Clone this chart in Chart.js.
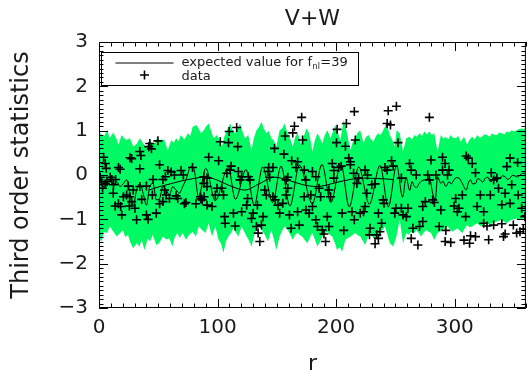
<!DOCTYPE html>
<html><head><meta charset="utf-8">
<script src="https://cdn.jsdelivr.net/npm/chart.js@4/dist/chart.umd.min.js"></script>
<style>html,body{margin:0;padding:0;background:#fff}</style>
</head><body>
<canvas id="c" width="532" height="372"></canvas>
<script>
// ---------- text ----------
const chartTitle = 'V+W';
const xAxisTitle = 'r';
const yAxisTitle = 'Third order statistics';
const legendLineText = 'expected value for f';
const legendLineSub = 'nl';
const legendLineTail = '=39';
const legendDataText = 'data';

// ---------- ticks ----------
const xTickValues = [0, 100, 200, 300];
const yTickValues = [-3, -2, -1, 0, 1, 2, 3];

// ---------- band (upper / lower edge), [r, value] ----------
const bandUpper = [
[0,0.96],[1,0.94],[4,0.86],[7,1.01],[9,0.83],[12,0.96],[15,0.80],[16.5,0.68],[19,0.90],[21,0.84],[23,0.79],[26,0.83],[29,0.64],[32,0.71],[34.5,0.83],[37,0.72],[40,0.62],[43,0.80],[45,0.70],[47,0.72],[49,0.84],[51,0.79],[55,0.80],[58,0.56],[61,0.79],[63,0.72],[65,0.83],[67,0.76],[69,0.90],[72,0.80],[75,0.94],[77,0.88],[79,1.09],[82,1.13],[84,1.05],[86,0.94],[88.5,1.01],[90,1.09],[92.5,1.16],[94.5,1.0],[96.7,0.83],[99.5,0.90],[101.5,0.80],[103.6,0.64],[105.5,0.85],[107.8,1.01],[110.6,1.16],[112.5,1.02],[114.8,0.94],[116.8,1.05],[118.9,1.16],[121,0.98],[123.1,0.83],[125.9,0.90],[128.6,0.56],[130.5,0.82],[132.8,1.01],[135,1.08],[137,1.20],[139,1.05],[141.1,0.94],[143,1.0],[145.3,0.83],[147.5,0.78],[149.5,0.64],[152.3,1.01],[154.5,1.05],[156.4,1.16],[158.5,0.98],[160.6,0.86],[163.4,0.64],[165.5,0.86],[167.5,0.95],[170.3,0.70],[173.1,0.90],[175,1.05],[177.2,0.95],[180,0.53],[182,0.78],[184.2,0.94],[186,0.85],[188.3,0.71],[190.5,0.9],[192.5,1.01],[195.3,0.83],[197.5,1.0],[199.4,1.13],[201.5,0.95],[203.6,0.79],[206.4,1.24],[209.2,0.94],[212,0.56],[214,0.75],[216.1,0.83],[218,0.95],[220.3,1.01],[223.1,0.71],[225,0.85],[227.2,0.90],[229,0.82],[231.4,0.75],[233.5,0.88],[235.6,0.94],[237.5,0.9],[239.7,1.01],[242.5,1.16],[245.3,0.90],[247.5,0.78],[249.4,0.64],[251,1.01],[253.6,0.94],[256.4,0.53],[259.1,0.83],[261.9,0.86],[264,0.80],[266.1,0.90],[268,0.86],[270.2,0.94],[272.5,0.88],[274.4,0.98],[276.5,0.92],[278.6,0.98],[280.5,0.90],[282.7,0.94],[285.5,0.53],[288.3,0.90],[290.5,0.82],[292.5,0.86],[294.5,0.80],[296.6,0.90],[298.5,0.84],[300.8,0.83],[303,0.88],[305,0.75],[307.8,0.86],[310.5,0.68],[312.5,0.80],[314.7,0.86],[316.8,0.80],[318.9,0.90],[321,0.84],[323,0.86],[325,0.92],[327.2,0.90],[329.5,0.86],[331.4,0.94],[333.5,0.90],[335.5,0.90],[337.5,0.96],[339.7,0.94],[342,0.92],[343.9,0.98],[346,0.96],[348,1.01],[350,0.98],[352.2,1.01],[354.5,1.04],[356.4,1.05],[358.5,1.03],[360,1.09]
];
const bandLower = [
[0,-1.45],[2.2,-1.50],[4,-1.28],[6.7,-1.31],[9.2,-1.16],[12.2,-1.28],[15,-1.39],[17.8,-1.31],[20.3,-1.25],[22,-1.40],[24.4,-1.35],[26.1,-1.50],[28.9,-1.65],[31.7,-1.54],[34.2,-1.61],[36,-1.46],[38.3,-1.69],[41.1,-1.43],[43,-1.50],[45.3,-1.35],[48.3,-1.58],[50.8,-1.54],[53.9,-1.39],[56.4,-1.45],[59.4,-1.43],[61.9,-1.61],[64,-1.40],[66.1,-1.31],[68,-1.42],[70.6,-1.31],[73.3,-1.46],[76.1,-1.35],[78.9,-1.28],[81.7,-1.39],[84.2,-1.16],[87,-1.24],[89.8,-1.31],[92.5,-1.09],[95.3,-1.39],[98.1,-1.16],[100.9,-1.46],[103,-1.55],[105,-1.76],[107,-1.50],[109.2,-1.39],[111.5,-1.30],[113.4,-1.20],[115.5,-1.30],[117.5,-1.39],[120.3,-1.16],[122.5,-1.28],[124.5,-1.39],[126.5,-1.48],[128.6,-1.61],[131.4,-1.31],[133.5,-1.22],[135.6,-1.16],[137.5,-1.25],[139.8,-1.35],[142.5,-1.50],[145.3,-1.24],[147.5,-1.45],[149.5,-1.69],[152.3,-1.39],[154.5,-1.25],[156.4,-1.16],[158.5,-1.22],[160.6,-1.31],[163.4,-1.46],[165.5,-1.35],[167.5,-1.30],[169.5,-1.36],[171.7,-1.40],[173.8,-1.48],[175.8,-1.54],[178,-1.40],[180,-1.31],[182,-1.45],[184.2,-1.61],[186.5,-1.50],[188.3,-1.39],[190.5,-1.32],[192.5,-1.28],[194.5,-1.35],[196.7,-1.39],[198.8,-1.52],[200.8,-1.69],[203,-1.62],[205,-1.73],[207.8,-1.46],[210,-1.42],[212,-1.39],[214,-1.35],[216.1,-1.31],[218.2,-1.36],[220.3,-1.39],[222.3,-1.48],[224.4,-1.58],[226.5,-1.42],[228.6,-1.31],[230.7,-1.40],[232.8,-1.46],[234.8,-1.40],[236.9,-1.35],[239,-1.24],[241.1,-1.16],[243.2,-1.35],[245.3,-1.54],[248.1,-1.61],[250.8,-1.39],[253.6,-1.01],[256.4,-1.54],[259.1,-1.31],[261,-1.35],[263.3,-1.28],[265.5,-1.32],[267.5,-1.24],[269.5,-1.30],[271.6,-1.39],[273.7,-1.30],[275.8,-1.24],[278,-1.28],[280,-1.31],[282.7,-1.46],[285.5,-1.31],[287.5,-1.28],[289.7,-1.24],[291.8,-1.20],[293.9,-1.16],[296,-1.22],[298,-1.28],[300,-1.24],[302.2,-1.20],[304.3,-1.26],[306.4,-1.31],[308.5,-1.20],[310.5,-1.13],[312.5,-1.18],[314.7,-1.16],[316.8,-1.12],[318.9,-1.09],[321,-1.14],[323,-1.16],[325,-1.12],[327.2,-1.09],[329.3,-1.12],[331.4,-1.09],[333.5,-1.07],[335.5,-1.05],[337.6,-1.03],[339.7,-1.01],[341.8,-1.06],[343.9,-1.09],[346,-1.04],[348,-1.01],[350,-1.0],[352.2,-0.98],[354.3,-1.02],[356.4,-1.01],[358.3,-0.97],[360,-0.94]
];

// ---------- expected value curve, [r, value] ----------
const expectedMain = [
[0,-0.30],[1.1,-0.11],[3.9,-0.26],[6.7,-0.19],[9.4,-0.11],[12.2,-0.22],[15,-0.15],[17.8,-0.26],[20.6,-0.19],[23.3,-0.11],[26.1,-0.41],[28.9,-0.68],[31.7,-0.34],[34.4,-0.19],[37.2,-0.41],[40,-0.68],[42.8,-0.26],[45.6,-0.19],[48.3,-0.56],[51.1,-0.53],[53.9,-0.26],[56.7,-0.34],[59.4,-0.45],[62.2,-0.26],[65,-0.34],[67.8,-0.41],[70.6,-0.26],[73.3,-0.11],[77.5,0.19],[80.3,0.11],[84,-0.50],[90,0.15],[98,-0.58],[109,0.17],[115,-0.55],[124,0.12],[131,-0.68],[138,0.18],[146.5,-0.62],[153.5,0.20],[161,-0.70],[169,0.22],[180,-0.65],[188,0.24],[195.5,-0.62],[204,0.25],[211,-0.72],[219,0.18],[228,-0.66],[237,0.22],[244,-0.72],[251,0.22],[256,-0.50],[259,-0.05],[262,-0.35],[264,-0.15],[266,-0.26],[268,-0.28],[270,-0.19],[272,-0.14],[274.4,-0.11],[276,-0.12],[278.6,-0.07],[281.4,-0.41],[283.6,-0.56],[285.5,-0.04],[288.3,-0.19],[290,-0.14],[292.5,-0.26],[295.2,-0.15],[297,-0.20],[299.4,-0.11],[301,-0.06],[303.6,-0.07],[306.4,-0.19],[309.7,-0.34],[311.5,-0.18],[313.3,-0.11],[315,-0.20],[317.5,-0.19],[319.5,-0.08],[321.6,-0.11],[323.5,-0.16],[325.8,-0.07],[328,-0.05],[330,-0.15],[332,-0.12],[334.1,-0.04],[336,-0.10],[338.3,-0.07],[340,-0.02],[342.5,-0.04],[344.5,-0.10],[346.6,-0.07],[348.5,-0.01],[350.8,-0.02],[353,-0.05],[355,0.0],[357.5,0.04],[360,0.02]
];
const expectedSmooth = [
[42,-0.34],[50,-0.27],[60,-0.20],[70,-0.13],[80,-0.08],[90,-0.04],[100,-0.12],[112,-0.26],[123,-0.34],[135,-0.20],[148,-0.05],[160,-0.12],[172,-0.22],[184,-0.26],[200,-0.17],[212,-0.10],[223,-0.07],[235,-0.08],[248,-0.10]
];

// ---------- data points, [r, value] ----------
const dataPoints = [
[3.9,0.40],[5.3,0.26],[6.1,0.15],[16.4,0.17],[17.8,0.13],[26.1,0.39],[27.5,0.37],[34.4,0.53],[35.3,0.44],[34.4,0.14],[42,0.64],[42.8,0.71],[44.2,0.59],[49.7,0.77],[51.1,0.23],
[9.4,-0.05],[10.8,-0.10],[6.7,-0.15],[5.3,-0.20],[12.2,-0.22],[24.7,-0.25],[28.9,-0.34],[34.4,-0.26],[40,-0.25],[45.6,-0.10],[53.9,-0.10],[58,0.10],[60.8,0.07],[63.6,0.0],[69.2,0.10],[71.1,0.0],[78.9,0.17],[2,-0.15],[14,-0.10],[56,-0.04],[1,-0.05],[3,-0.30],
[13.6,-0.70],[16.4,-0.65],[18.3,-0.71],[19.2,-0.90],[20.6,-0.49],[23.3,-0.45],[25.6,-0.70],[27.5,-0.60],[30.3,-0.75],[31.7,-1.01],[40,-0.90],[41.4,-1.0],[48.3,-0.86],[55.3,-0.34],[56.7,-0.45],[59.4,-0.53],[65,-0.47],[66.4,-0.53],[72,-0.65],[73.3,-0.62],[81.7,-0.65],[85.8,-0.53],[88.6,-0.49],[51.1,-0.65],[53.9,-0.60],[12,-0.41],[25.8,-0.49],[36,-0.55],[45,-0.45],
[92.5,0.40],[100.9,0.32],[102.3,0.75],[109.2,0.73],[109.8,0.98],[116.1,1.07],[117,0.64],[148,0.60],[155.9,0.47],[157,0.88],[163.4,0.95],[164.8,1.1],[170.9,1.3],[171.7,0.79],[162.5,0.32],[167.5,0.30],[143.1,0.17],[146.7,0.17],
[88.4,-0.04],[91.1,-0.07],[111.4,0.2],[110.6,0.11],[107.8,0.04],[117.5,0.08],[118.9,-0.11],[120.3,-0.04],[125.9,-0.04],[127.3,-0.11],[142.5,0.08],[143.9,-0.05],[157.8,-0.11],[159.2,-0.05],[166.1,0.17],[173.1,0.11],
[85.6,-0.49],[87,-0.56],[91.1,-0.68],[95.3,-0.71],[98.1,-0.45],[103.6,-0.30],[105,-0.45],[105.9,-0.94],[106.4,-1.09],[113.4,-0.86],[114.8,-1.15],[120.3,-0.83],[124.5,-0.68],[125.3,-0.53],[128.6,-0.98],[130,-0.86],[132.8,-1.16],[133.6,-0.68],[134.2,-1.31],[135.6,-1.5],[137,-1.13],[138.4,-0.94],[139.8,-0.34],[141.1,-0.45],[146.7,-0.49],[148.6,-0.56],[150.9,-0.68],[152.3,-0.86],[155,-0.64],[157.8,-0.45],[159.2,-0.30],[160.6,-0.90],[162,-1.2],[167.5,-0.83],[168.9,-1.13],[174.5,-0.79],[88.4,-0.19],[91.1,-0.26],[99.5,-0.30],
[200.8,1.03],[208.6,1.16],[215.3,1.43],[216.1,0.79],[200.3,0.73],[207.8,0.65],[243.9,1.45],[250.8,1.55],[243,1.16],[245.8,1.13],[252.2,0.73],[210.6,0.38],[212,0.30],[246.7,0.32],
[180,0.08],[182.8,-0.04],[174.4,-0.11],[196.7,0.26],[198,0.10],[202.2,0.17],[204.2,0.20],[212,0.23],[214.7,0.04],[218.9,-0.07],[224.4,0.11],[226.4,0.0],[230,-0.22],[232.8,-0.20],[241.1,0.17],[243,0.11],[248.1,0.2],[255,-0.07],[198,-0.07],[217.5,-0.19],
[173,-0.49],[178.6,-0.45],[180,-0.71],[185.6,-0.30],[186.9,-0.49],[193.9,-0.34],[195.3,-0.49],[177.2,-0.86],[182.8,-1.01],[184.2,-1.16],[188.3,-1.24],[189.7,-1.33],[191.1,-1.5],[192.5,-0.94],[193.9,-1.16],[206.4,-1.25],[205,-0.86],[213.3,-0.83],[215.3,-1.01],[220.3,-0.86],[223.1,-0.83],[224.4,-0.71],[225.8,-0.41],[235.6,-0.86],[238.3,-1.09],[239.7,-0.56],[240.3,-0.64],[228.6,-1.2],[228.1,-1.35],[234.2,-1.35],[235.6,-1.43],[232.8,-1.55],[236.9,-1.28],[249.4,-0.86],[250.3,-0.75],[256.4,-0.9],
[278.6,1.30],[280,0.34],[289.7,0.4],[309.7,0.43],[311.4,0.38],[346.6,0.38],[353,0.28],[261.9,0.26],[291.9,0.26],[314.7,0.26],[343.9,0.19],
[263.3,0.11],[267.5,0.0],[277.2,0.0],[284.1,0.0],[289.7,0.11],[295.2,0.11],[293.9,0.0],[317.5,0.05],[330.8,0.05],[332.8,-0.11],[335.5,-0.07],[348,-0.22],[278.6,-0.11],
[255,-0.75],[259.2,-0.94],[260.5,-0.75],[273,-0.71],[275.2,-0.60],[281.4,-0.56],[282.8,-0.62],[288.3,-0.79],[300.8,-0.53],[299.4,-0.70],[302.2,-0.83],[303.6,-0.75],[306.4,-0.45],[309.2,-0.94],[318.9,-0.71],[321.6,-0.45],[324.4,-0.83],[330,-0.45],[336.9,-0.30],[342.5,-0.41],[339.7,-0.67],[346.6,-0.64],[353.5,-0.45],[356.4,-0.75],[359.1,-0.94],
[264.7,-1.2],[270.3,-1.16],[273,-1.05],[263.3,-1.43],[268.9,-1.58],[286.9,-1.16],[292.5,-1.25],[291.9,-1.5],[296.6,-1.52],[307.8,-1.47],[313.3,-1.37],[317.5,-1.39],[312.5,-1.54],[324.4,-1.09],[327.2,-1.15],[328.6,-1.46],[332.8,-1.13],[339.7,-1.1],[341.1,-1.39],[342.5,-1.33],[349.4,-1.13],[352.2,-1.31],[355,-1.28],[357.8,-1.22]
];

// ---------- styling ----------
const GREEN = 'rgb(0,250,100)';
const INK = '#1a1a1a';
const FONT = 'DejaVu Sans';
const toXY = arr => arr.map(p => ({x: p[0], y: p[1]}));
const fmtTick = v => (v < 0 ? '\u2212' + Math.abs(v) : String(v));

const framePlugin = {
  id: 'frameTicks',
  afterDatasetsDraw(chart) {
    const {ctx, chartArea: a, scales: {x, y}} = chart;
    ctx.save();
    ctx.strokeStyle = '#000';
    ctx.lineWidth = 1;
    ctx.strokeRect(a.left + 0.5, a.top + 0.5, a.right - a.left - 1, a.bottom - a.top - 1);
    ctx.beginPath();
    for (let k = 0; k <= 36; k++) {
      const px = Math.round(x.getPixelForValue(k * 10)) + 0.5;
      const len = (k % 10 === 0) ? 9 : 4.5;
      ctx.moveTo(px, a.bottom); ctx.lineTo(px, a.bottom - len);
      ctx.moveTo(px, a.top); ctx.lineTo(px, a.top + len);
    }
    for (let k = -30; k <= 30; k++) {
      const py = Math.round(y.getPixelForValue(k / 10)) + 0.5;
      const len = (k % 10 === 0) ? 9 : 4.5;
      ctx.moveTo(a.left, py); ctx.lineTo(a.left + len, py);
      ctx.moveTo(a.right, py); ctx.lineTo(a.right - len, py);
    }
    ctx.stroke();
    ctx.restore();
  }
};

const legendPlugin = {
  id: 'boxLegend',
  afterDraw(chart) {
    const {ctx, chartArea: a} = chart;
    const x0 = a.left + 2.5, y0 = a.top + 10.5, w = 257, h = 33;
    ctx.save();
    ctx.strokeStyle = '#000';
    ctx.lineWidth = 1;
    ctx.strokeRect(x0, y0, w, h);
    ctx.beginPath();
    ctx.moveTo(x0 + 14, y0 + 10.5); ctx.lineTo(x0 + 72, y0 + 10.5);
    ctx.stroke();
    ctx.lineWidth = 1.6;
    const cx = x0 + 43, cy = y0 + 22.5;
    ctx.beginPath();
    ctx.moveTo(cx - 4.5, cy); ctx.lineTo(cx + 4.5, cy);
    ctx.moveTo(cx, cy - 4.5); ctx.lineTo(cx, cy + 4.5);
    ctx.stroke();
    ctx.fillStyle = INK;
    ctx.textBaseline = 'alphabetic';
    ctx.font = '13px "' + FONT + '"';
    let tx = x0 + 80;
    ctx.fillText(legendLineText, tx, y0 + 13);
    tx += ctx.measureText(legendLineText).width;
    ctx.font = '8px "' + FONT + '"';
    ctx.fillText(legendLineSub, tx + 0.5, y0 + 16);
    tx += ctx.measureText(legendLineSub).width + 1;
    ctx.font = '13px "' + FONT + '"';
    ctx.fillText(legendLineTail, tx, y0 + 13);
    ctx.fillText(legendDataText, x0 + 80, y0 + 27);
    ctx.restore();
  }
};

new Chart(document.getElementById('c'), {
  type: 'line',
  data: {
    datasets: [
      {label: 'data', data: toXY(dataPoints), showLine: false, pointStyle: 'cross',
       pointRadius: 4.5, pointBorderWidth: 1.6, borderColor: '#000', backgroundColor: '#000', fill: false},
      {label: 'expected', data: toXY(expectedMain), borderColor: '#000', borderWidth: 1,
       pointRadius: 0, cubicInterpolationMode: 'monotone', fill: false},
      {label: 'expected2', data: toXY(expectedSmooth), borderColor: '#000', borderWidth: 1,
       pointRadius: 0, cubicInterpolationMode: 'monotone', fill: false},
      {label: 'upper', data: toXY(bandUpper), borderWidth: 0, borderColor: GREEN,
       backgroundColor: GREEN, pointRadius: 0, fill: '+1'},
      {label: 'lower', data: toXY(bandLower), borderWidth: 0, borderColor: GREEN,
       backgroundColor: GREEN, pointRadius: 0, fill: false}
    ]
  },
  options: {
    animation: false, responsive: false, devicePixelRatio: 1,
    layout: {padding: {left: 0, right: 2, top: 0, bottom: 0}},
    plugins: {
      legend: {display: false}, tooltip: {enabled: false},
      title: {display: true, text: chartTitle, fullSize: false, color: INK,
              font: {family: FONT, size: 22, weight: 'normal', lineHeight: 1.2},
              padding: {top: 6.5, bottom: 9.1}}
    },
    scales: {
      x: {
        type: 'linear', min: 0, max: 360,
        afterBuildTicks: s => { s.ticks = xTickValues.map(v => ({value: v})); },
        afterFit: s => { s.height = 64; },
        grid: {display: false, drawTicks: false}, border: {display: false},
        ticks: {color: INK, padding: 8, maxRotation: 0, autoSkip: false, callback: fmtTick,
                font: {family: FONT, size: 20, weight: 'normal'}},
        title: {display: true, text: xAxisTitle, color: INK,
                font: {family: FONT, size: 22, lineHeight: 0.8}, padding: {top: 0, bottom: -1}}
      },
      y: {
        type: 'linear', min: -3, max: 3,
        afterBuildTicks: s => { s.ticks = yTickValues.map(v => ({value: v})); },
        afterFit: s => { s.width = 99; },
        grid: {display: false, drawTicks: false}, border: {display: false},
        ticks: {color: INK, padding: 11, autoSkip: false, callback: fmtTick,
                font: {family: FONT, size: 20, weight: 'normal'}},
        title: {display: true, text: yAxisTitle, color: INK,
                font: {family: FONT, size: 24, lineHeight: 1.2}, padding: {top: 7, bottom: 0}}
      }
    }
  },
  plugins: [framePlugin, legendPlugin]
});
</script>
</body></html>
